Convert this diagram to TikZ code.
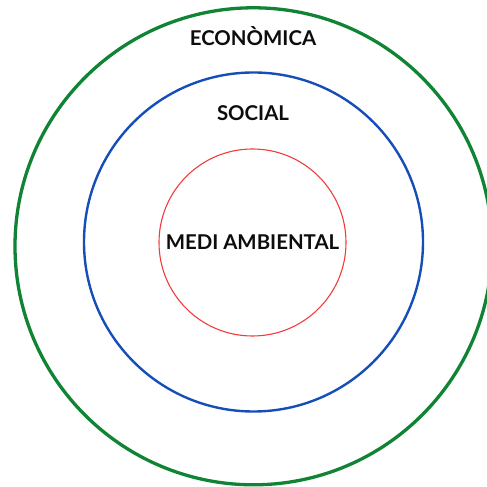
\documentclass[tikz,border=0pt]{standalone}
\usepackage{fontspec}
\setmainfont{Lato}
\usepackage{tikz}
\usetikzlibrary{calc, positioning}
\definecolor{ecogreen}{RGB}{16,132,52}
\definecolor{socblue}{RGB}{22,78,184}
\definecolor{medred}{RGB}{240,60,60}
\tikzstyle{ring}=[circle, draw, inner sep=0pt, fill=none]
\tikzstyle{lbl}=[font=\fontsize{20.4}{24}\selectfont\bfseries, text=black!95]

\begin{document}
\begin{tikzpicture}[x=1pt,y=1pt]
        \useasboundingbox (0,0) rectangle (487,487);
        \node [ring, draw=ecogreen, line width=3.3pt, minimum size=477pt] (eco) at (253.5,240.7) {};
        \node [ring, draw=socblue, line width=2.4pt, minimum size=339pt] (soc) at (253.5,245) {};
        \node [ring, draw=medred, line width=1.1pt, minimum size=187pt] (med) at (252.5,244.5) {};
        \node [lbl] (a) at (253,451) {ECONÒMICA};
        \node [lbl] (b) at (253,374) {SOCIAL};
        \node [lbl] (c) at (med.center) {MEDI AMBIENTAL};
    \end{tikzpicture}
\end{document}
